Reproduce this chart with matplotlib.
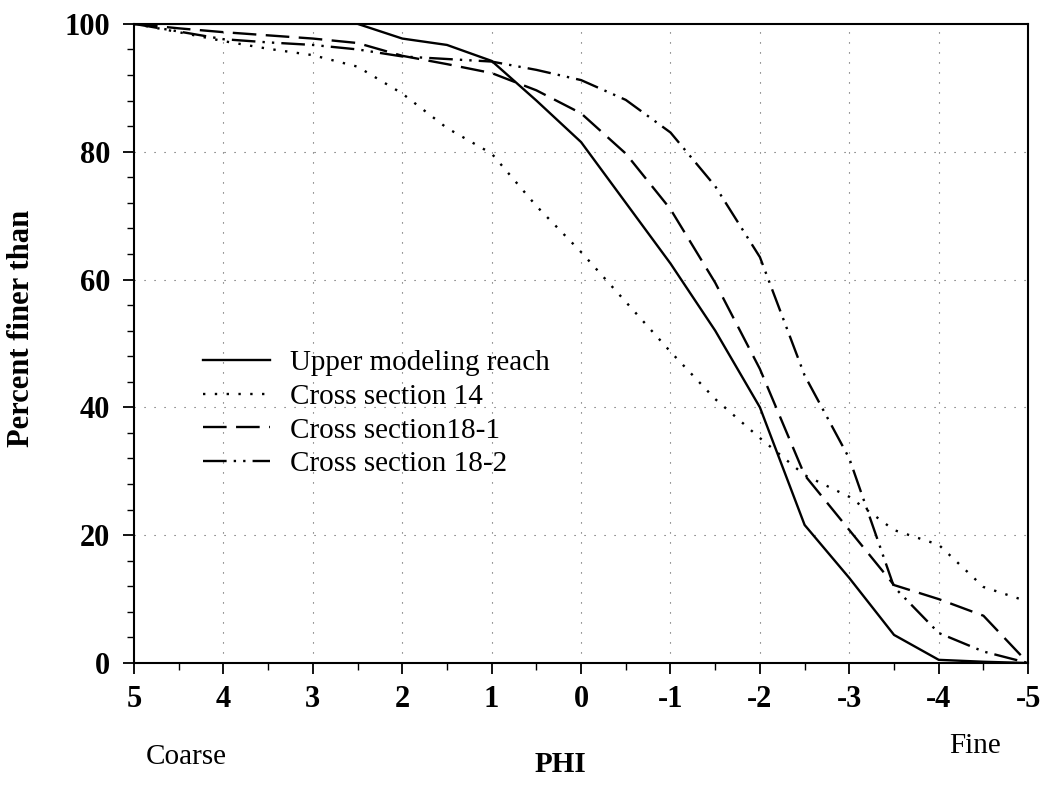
import numpy as np
import matplotlib
matplotlib.use('Agg')
import matplotlib.pyplot as plt
from matplotlib.ticker import MultipleLocator

plt.rcParams['font.family'] = ['Liberation Serif', 'DejaVu Serif']
plt.rcParams['axes.unicode_minus'] = False

# grain-size curves, read every 0.5 PHI from 5 down to -5
phi = [5, 4.5, 4, 3.5, 3, 2.5, 2, 1.5, 1, 0.5, 0, -0.5, -1, -1.5, -2, -2.5, -3, -3.5, -4, -4.5, -5]
upper_reach = [100, 100, 100, 100, 100, 100, 97.7, 96.7, 94.2, 88.0, 81.5, 72.0, 62.5, 52.0, 40.0,
               21.6, 13.3, 4.4, 0.5, 0.2, 0]
xs_14 = [100, 98.7, 97.3, 96.1, 95.1, 93.3, 89.1, 83.7, 79.7, 71.5, 64.3, 56.5, 48.7, 41.3, 35.2,
         29.4, 26.0, 20.8, 18.5, 11.9, 9.6]
xs_18_1 = [100, 99.3, 98.7, 98.2, 97.7, 97.0, 95.0, 93.7, 92.3, 89.6, 86.0, 79.7, 71.0, 59.5, 46.0,
           29.4, 20.8, 12.2, 10.0, 7.4, 0]
xs_18_2 = [100, 98.8, 97.6, 97.1, 96.7, 96.0, 94.9, 94.5, 94.1, 92.8, 91.2, 88.1, 83.0, 74.6, 63.5,
           45.0, 32.0, 11.9, 4.7, 1.8, 0]

fig = plt.figure(figsize=(10.47, 7.95), dpi=100)
ax = fig.add_axes([0.128, 0.166, 0.854, 0.804])

ax.plot(phi, upper_reach, color='black', lw=1.7, ls='-', label='Upper modeling reach')
ax.plot(phi, xs_14, color='black', lw=1.7, ls=(0, (1, 4)), label='Cross section 14')
ax.plot(phi, xs_18_1, color='black', lw=1.7, ls=(0, (10, 4)), label='Cross section18-1')
ax.plot(phi, xs_18_2, color='black', lw=1.7, ls=(0, (10, 3, 1, 3, 1, 3)), label='Cross section 18-2')

ax.set_xlim(5, -5)
ax.set_ylim(0, 100)
ax.xaxis.set_major_locator(MultipleLocator(1))
ax.xaxis.set_minor_locator(MultipleLocator(0.5))
ax.yaxis.set_major_locator(MultipleLocator(20))
ax.yaxis.set_minor_locator(MultipleLocator(4))
ax.tick_params(which='major', direction='out', length=8, width=1.3, labelsize=22)
ax.tick_params(axis='x', which='major', pad=8)
ax.tick_params(axis='y', which='major', pad=9)
ax.tick_params(which='minor', direction='out', length=5, width=1.0)
for lab in ax.get_xticklabels() + ax.get_yticklabels():
    lab.set_fontweight('bold')

# sparse dotted grid at inner major ticks only
for xv in range(-4, 5):
    ax.axvline(xv, color='#555555', lw=0.8, ls=(0, (1, 8)), zorder=0)
for yv in [20, 40, 60, 80]:
    ax.axhline(yv, color='#555555', lw=0.8, ls=(0, (1, 8)), zorder=0)

for s in ax.spines.values():
    s.set_linewidth(1.5)

fig.text(22 / 1047, 1 - 328 / 795, 'Percent finer than', fontsize=22, fontweight='bold',
         rotation=90, ha='center', va='center')
fig.text(560 / 1047, 1 - 765 / 795, 'PHI', fontsize=21, fontweight='bold', ha='center', va='center')
fig.text(186 / 1047, 1 - 757 / 795, 'Coarse', fontsize=21, ha='center', va='center')
fig.text(975 / 1047, 1 - 746 / 795, 'Fine', fontsize=21, ha='center', va='center')

ax.legend(loc='upper left', bbox_to_anchor=(0.077, 0.49), frameon=False, fontsize=21,
          handlelength=2.3, handletextpad=0.7, labelspacing=0.25, borderaxespad=0, borderpad=0)

fig.savefig('out.png', dpi=100)
